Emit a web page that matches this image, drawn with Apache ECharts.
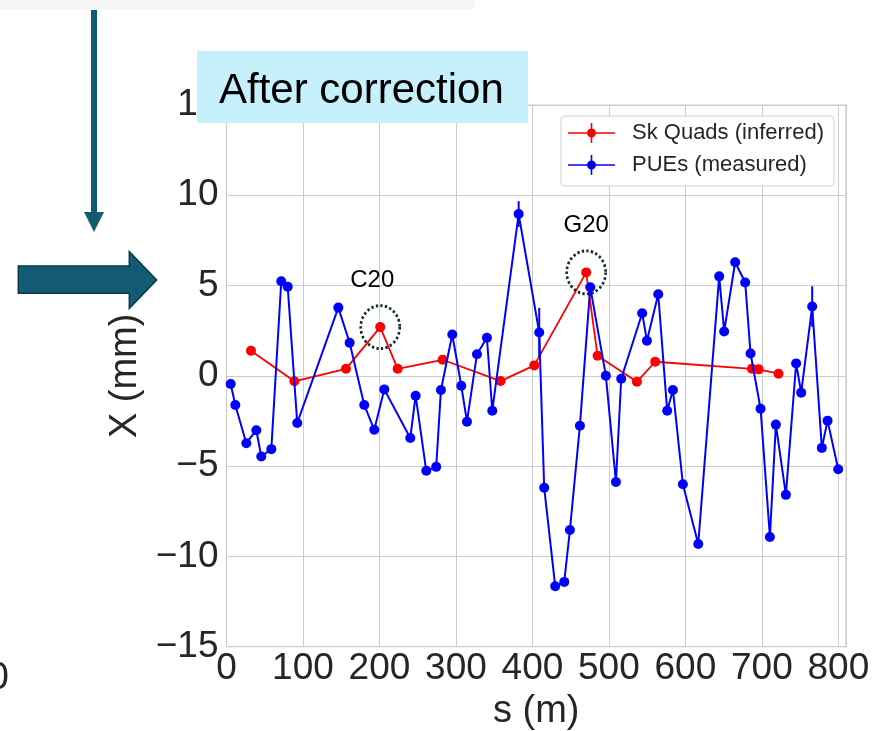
<!DOCTYPE html>
<html>
<head>
<meta charset="utf-8">
<script src="https://cdn.jsdelivr.net/npm/echarts@6/dist/echarts.min.js"></script>
<style>
  html, body { margin: 0; padding: 0; background: #ffffff; }
  #chart { width: 879px; height: 731px; }
</style>
</head>
<body>
<div id="chart"></div>
<script>
// Skew-quad offsets inferred from the orbit fit (s in m, X in mm)
const quadS = [32, 88.7, 156.2, 201, 223.8, 282.6, 358.4, 402.4, 470.3, 485.2, 536.6, 560.5, 687, 695.7, 721.8];
const quadX = [1.39, -0.30, 0.39, 2.70, 0.39, 0.89, -0.29, 0.58, 5.73, 1.11, -0.33, 0.78, 0.39, 0.36, 0.12];

// Pick-up electrode readings (s in m, X in mm, error in mm)
const pueS = [5.5, 11.5, 25.9, 39, 45.5, 58.6, 71.6, 80, 92.5, 146.2, 161, 180.1, 193.2, 206.3, 240.3, 247.3,
              261.2, 274.2, 280.4, 295.2, 307, 314.4, 327.5, 340.5, 347.5, 382, 408.9, 415.4, 429.8, 441.6,
              449, 462.1, 475.6, 496, 509.2, 516.1, 543.5, 549.7, 564.5, 576.2, 583.7, 596.7, 616.8, 644.2,
              650.7, 665.1, 678.2, 685.2, 698.3, 710.5, 718.3, 731.4, 744.8, 751.4, 765.8, 778.4, 785.9, 799.8];
const pueX = [-0.45, -1.61, -3.73, -3.01, -4.47, -4.06, 5.24, 4.94, -2.61, 3.78, 1.83, -1.61, -2.99, -0.75, -3.44, -1.10,
              -5.26, -5.04, -0.78, 2.29, -0.55, -2.54, 1.20, 2.11, -1.93, 8.96, 2.40, -6.20, -11.65, -11.41,
              -8.54, -2.76, 4.91, 0.01, -5.88, -0.16, 3.47, 1.94, 4.52, -1.93, -0.78, -6.0, -9.31, 5.51,
              2.46, 6.29, 5.17, 1.24, -1.82, -8.92, -2.70, -6.59, 0.69, -0.93, 3.84, -3.99, -2.48, -5.17];
const pueErr = [0, 0, 0, 0, 0, 0, 0, 0, 0, 0, 0, 0, 0, 0, 0, 0,
                0, 0, 0, 0, 0, 0, 0, 0, 0, 0.71, 1.36, 0, 0, 0,
                0, 0, 0, 0, 0, 0, 0, 0, 0, 0, 0, 0, 0, 0,
                0, 0, 0, 0, 0, 0, 0, 0, 0, 0, 1.12, 0, 0, 0];

// Highlighted quads (index into quadS / quadX)
const markNames = ['C20', 'G20'];
const markIdx = [3, 8];

// Axis ranges and tick steps
const sRange = [0, 810], sStep = 100;
const xRange = [-15, 15], xStep = 5;

const FONT = 'Liberation Sans, Arial, Helvetica, sans-serif';
const INK = '#262626';
const GRIDC = '#cccccc';
const TEAL = '#135a73';

// errorbar-style legend glyph: line, dot and vertical cap
const errIcon = 'path://M0,9.2H47V10.8H0Z M22.7,0H24.3V20H22.7Z M23.5,5.5A4.5,4.5 0 1 1 23.49,5.5Z';

const chart = echarts.init(document.getElementById('chart'), null, { renderer: 'canvas' });

chart.setOption({
  backgroundColor: '#ffffff',
  animation: false,
  textStyle: { fontFamily: FONT },
  grid: {
    left: 226.5, right: 33, top: 105, bottom: 84.3,
    outerBoundsMode: 'none', containLabel: false,
    show: true, borderColor: GRIDC, borderWidth: 1.25, backgroundColor: 'transparent'
  },
  legend: {
    orient: 'vertical',
    left: 561, top: 116,
    data: ['Sk Quads (inferred)', 'PUEs (measured)'],
    icon: errIcon,
    itemWidth: 47, itemHeight: 20, itemGap: 10,
    padding: [6, 10, 10, 7],
    backgroundColor: 'rgba(255,255,255,0.9)',
    borderColor: '#d0d0d0', borderWidth: 1, borderRadius: 4,
    textStyle: { fontSize: 22, color: INK, fontFamily: FONT, padding: [0, 0, 0, 12] }
  },
  xAxis: {
    type: 'value',
    min: sRange[0], max: sRange[1], interval: sStep,
    name: 's (m)', nameLocation: 'middle', nameGap: 44,
    nameTextStyle: { fontSize: 38, color: INK, fontFamily: FONT },
    axisLine: { show: false }, axisTick: { show: false },
    axisLabel: {
      fontSize: 37, color: INK, fontFamily: FONT, margin: 4,
      formatter: v => (v % sStep === 0 ? String(v) : '')
    },
    splitLine: { show: true, lineStyle: { color: GRIDC, width: 1 } }
  },
  yAxis: {
    type: 'value',
    min: xRange[0], max: xRange[1], interval: xStep,
    name: 'X (mm)', nameLocation: 'middle', nameGap: 81,
    nameTextStyle: { fontSize: 38, color: INK, fontFamily: FONT },
    axisLine: { show: false }, axisTick: { show: false },
    axisLabel: {
      fontSize: 37, color: INK, fontFamily: FONT, margin: 8,
      formatter: v => String(v).replace('-', '\u2212')
    },
    splitLine: { show: true, lineStyle: { color: GRIDC, width: 1 } }
  },
  series: [
    {
      name: 'Sk Quads (inferred)',
      type: 'line',
      data: quadS.map((s, i) => [s, quadX[i]]),
      color: '#ff0000',
      symbol: 'circle', symbolSize: 10,
      lineStyle: { width: 1.8, color: '#ff0000' },
      itemStyle: { color: '#ff0000' },
      z: 3
    },
    {
      name: 'PUEs (measured)',
      type: 'line',
      data: pueS.map((s, i) => [s, pueX[i]]),
      color: '#0000ff',
      symbol: 'circle', symbolSize: 10,
      lineStyle: { width: 2, color: '#0000ff' },
      itemStyle: { color: '#0000ff' },
      z: 4
    },
    {
      // vertical error bars on the electrode readings
      type: 'custom',
      data: pueS.map((s, i) => [s, pueX[i], pueErr[i]]).filter(d => d[2] > 0),
      renderItem: (params, api) => {
        const s = api.value(0), x = api.value(1), e = api.value(2);
        const lo = api.coord([s, x - e]);
        const hi = api.coord([s, x + e]);
        return {
          type: 'line',
          shape: { x1: lo[0], y1: lo[1], x2: hi[0], y2: hi[1] },
          style: { stroke: '#0000ff', lineWidth: 2 }
        };
      },
      silent: true,
      z: 4
    },
    {
      // dotted rings and names for the highlighted quads
      type: 'scatter',
      data: markIdx.map((k, j) => ({
        value: [quadS[k], quadX[k]],
        name: markNames[j],
        label: { offset: j === 0 ? [-8, 0] : [0, 0] }
      })),
      symbol: 'circle', symbolSize: [39, 43],
      itemStyle: {
        color: 'rgba(0,0,0,0)', opacity: 1,
        borderColor: '#0f2a33', borderWidth: 2.8, borderType: [2.4, 2.4]
      },
      label: {
        show: true, position: 'top', distance: 12,
        formatter: p => p.name,
        fontSize: 24, color: '#000000', fontFamily: FONT
      },
      silent: true,
      z: 5
    }
  ],
  graphic: [
    // faint strip of a box above the panel
    { type: 'rect', z: 100, shape: { x: 0, y: 0, width: 475, height: 9 }, style: { fill: '#f5f5f5' } },
    // downward arrow
    { type: 'rect', z: 100, shape: { x: 91, y: 10, width: 6, height: 203 }, style: { fill: TEAL } },
    { type: 'polygon', z: 100, shape: { points: [[84, 212], [104, 212], [94, 232]] }, style: { fill: TEAL } },
    // block arrow pointing at the panel
    {
      type: 'polygon', z: 100,
      shape: { points: [[18.3, 266], [129.3, 266], [129.3, 251.7], [156.7, 280], [129.3, 308.3], [129.3, 293.3], [18.3, 293.3]] },
      style: { fill: TEAL, stroke: '#0c3847', lineWidth: 1.5 }
    },
    // edge of a neighbouring tick label
    { type: 'text', z: 100, style: { x: 9, y: 679, text: '0', align: 'right', verticalAlign: 'middle', fontSize: 38, fontFamily: FONT, fill: INK } },
    // title badge
    { type: 'rect', z: 100, shape: { x: 197, y: 51, width: 331, height: 72 }, style: { fill: '#c6f1fc' } },
    { type: 'text', z: 101, style: { x: 219, y: 91, text: 'After correction', verticalAlign: 'middle', fontSize: 42, fontFamily: FONT, fill: '#000000' } }
  ]
});
</script>
</body>
</html>
